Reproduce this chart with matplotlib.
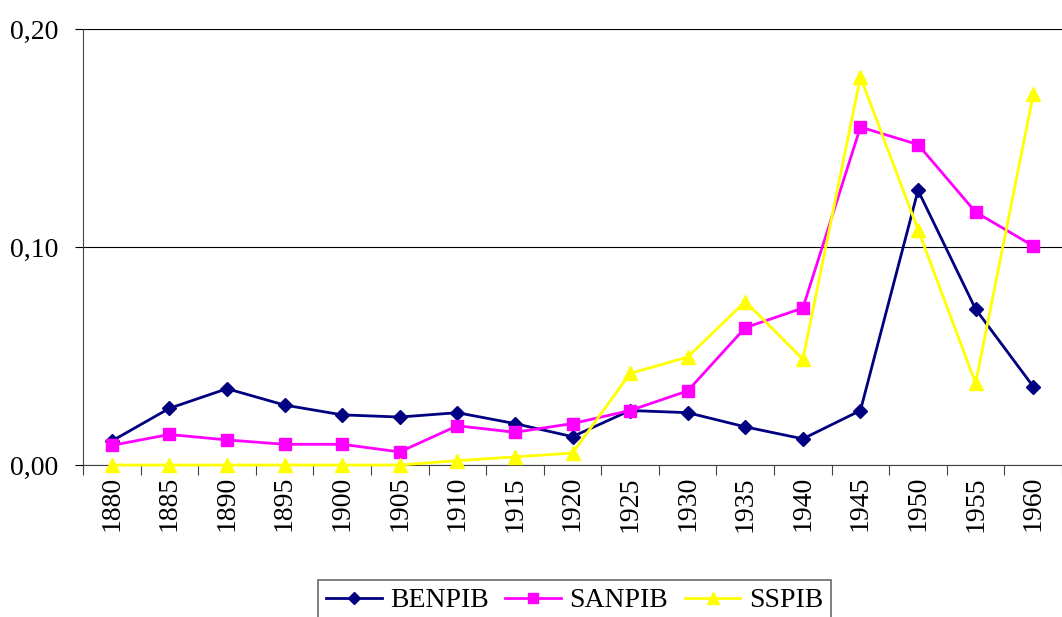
import matplotlib
matplotlib.use('Agg')
import matplotlib.pyplot as plt
from matplotlib.ticker import FixedLocator, FuncFormatter

# data #

years = ['1880', '1885', '1890', '1895', '1900', '1905', '1910', '1915', '1920',
         '1925', '1930', '1935', '1940', '1945', '1950', '1955', '1960']
benpib = [0.011, 0.026, 0.035, 0.0275, 0.023, 0.022, 0.024, 0.019, 0.013,
          0.025, 0.024, 0.0175, 0.012, 0.025, 0.126, 0.0715, 0.036]
sanpib = [0.009, 0.014, 0.0115, 0.0095, 0.0095, 0.006, 0.018, 0.015, 0.019,
          0.025, 0.034, 0.063, 0.072, 0.155, 0.147, 0.116, 0.1005]
sspib = [0.0, 0.0, 0.0, 0.0, 0.0, 0.0, 0.002, 0.0037, 0.0055,
         0.042, 0.0495, 0.075, 0.0485, 0.178, 0.108, 0.0375, 0.17]

plt.rcParams['font.family'] = ['Liberation Serif', 'DejaVu Serif']

fig = plt.figure(figsize=(10.62, 6.17), dpi=100)
ax = fig.add_axes([83 / 1062, (617 - 465) / 617, 1 - 83 / 1062, (465 - 29) / 617])

x = list(range(len(years)))
ax.plot(x, benpib, color='#000080', marker='D', markersize=7.5, lw=2, label='BENPIB', zorder=3, clip_on=False)
ax.plot(x, sanpib, color='#ff00ff', marker='s', markersize=8.5, lw=2, label='SANPIB', zorder=3, clip_on=False)
ax.plot(x, sspib, color='#ffff00', marker='^', markersize=10, lw=2, label='SSPIB', zorder=3, clip_on=False)

ax.set_xlim(-0.5, len(years) - 0.5)
ax.set_ylim(0, 0.2)
ax.set_yticks([0, 0.1, 0.2])
ax.yaxis.set_major_formatter(FuncFormatter(lambda v, p: f'{v:.2f}'.replace('.', ',')))
ax.grid(True, axis='y', color='black', lw=0.8)
ax.set_axisbelow(True)

# category ticks between labels, labels centered
ax.xaxis.set_major_locator(FixedLocator([i - 0.5 for i in range(len(years) + 1)]))
ax.xaxis.set_major_formatter(FuncFormatter(lambda v, p: ''))
ax.xaxis.set_minor_locator(FixedLocator(x))
ax.set_xticklabels(years, minor=True, rotation=90)
ax.tick_params(axis='x', which='major', length=7, direction='out', color='#444444')
ax.tick_params(axis='x', which='minor', length=0, labelsize=20, pad=8)
ax.tick_params(axis='y', length=6, direction='out', labelsize=20, pad=12)

for s in ['top', 'right']:
    ax.spines[s].set_visible(False)
ax.spines['left'].set_color('#444444')
ax.spines['bottom'].set_color('#444444')

leg = fig.legend(loc='lower center', bbox_to_anchor=(0.541, -0.03), ncol=3, fontsize=20,
                 frameon=True, fancybox=False, edgecolor='#444444', handlelength=2.0,
                 handletextpad=0.3, columnspacing=0.6, borderpad=0.3, markerscale=0.85)
leg.get_frame().set_linewidth(1.2)

fig.savefig('out.png', dpi=100)
